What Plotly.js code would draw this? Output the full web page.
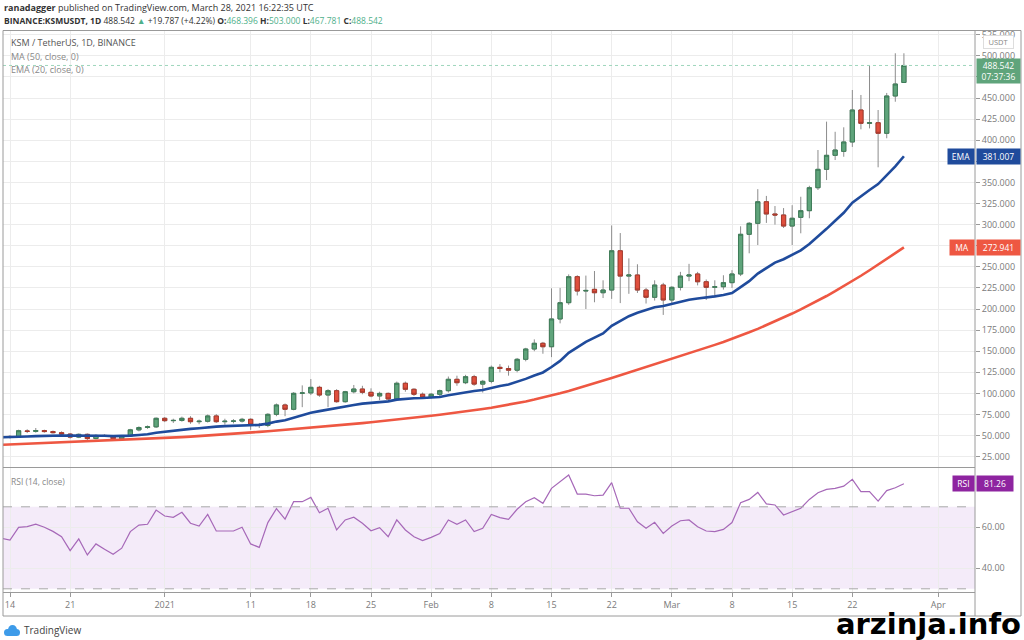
<!DOCTYPE html>
<html><head><meta charset="utf-8">
<script src="https://cdn.plot.ly/plotly-3.0.1.min.js"></script>
<style>html,body{margin:0;padding:0;background:#fff;overflow:hidden}#chart{width:1024px;height:640px}</style>
</head><body><div id="chart"></div>
<script>
const dates = [
'2020-12-13','2020-12-14','2020-12-15','2020-12-16','2020-12-17','2020-12-18','2020-12-19','2020-12-20','2020-12-21','2020-12-22',
'2020-12-23','2020-12-24','2020-12-25','2020-12-26','2020-12-27','2020-12-28','2020-12-29','2020-12-30','2020-12-31',
'2021-01-01','2021-01-02','2021-01-03','2021-01-04','2021-01-05','2021-01-06','2021-01-07','2021-01-08','2021-01-09','2021-01-10',
'2021-01-11','2021-01-12','2021-01-13','2021-01-14','2021-01-15','2021-01-16','2021-01-17','2021-01-18','2021-01-19','2021-01-20',
'2021-01-21','2021-01-22','2021-01-23','2021-01-24','2021-01-25','2021-01-26','2021-01-27','2021-01-28','2021-01-29','2021-01-30','2021-01-31',
'2021-02-01','2021-02-02','2021-02-03','2021-02-04','2021-02-05','2021-02-06','2021-02-07','2021-02-08','2021-02-09','2021-02-10',
'2021-02-11','2021-02-12','2021-02-13','2021-02-14','2021-02-15','2021-02-16','2021-02-17','2021-02-18','2021-02-19','2021-02-20',
'2021-02-21','2021-02-22','2021-02-23','2021-02-24','2021-02-25','2021-02-26','2021-02-27','2021-02-28',
'2021-03-01','2021-03-02','2021-03-03','2021-03-04','2021-03-05','2021-03-06','2021-03-07','2021-03-08','2021-03-09','2021-03-10',
'2021-03-11','2021-03-12','2021-03-13','2021-03-14','2021-03-15','2021-03-16','2021-03-17','2021-03-18','2021-03-19','2021-03-20',
'2021-03-21','2021-03-22','2021-03-23','2021-03-24','2021-03-25','2021-03-26','2021-03-27','2021-03-28'];

const open = [47.5,49,48,55.5,55,56,54.8,53.5,51.8,48.2,51.5,46.5,50.2,49.6,46.2,49.6,56.8,59.6,60.4,
70.5,67.7,68,70.5,66.5,67,73.3,66.5,67,67.2,69.3,62.6,62,75.2,86.3,81.2,100.1,100.6,107.2,98.1,
103.2,90.2,102,105.2,101.3,97,100,93.4,112,104.9,99,
95.4,99,103.2,116.7,112.7,119.8,111,114.3,130.9,129.5,127.5,140.4,152.6,159.4,155.3,188.2,207.5,238.3,221.3,223.3,
219.3,222.5,269,239,240.3,222.5,213.9,228.4,
210.7,225.7,239,241.5,232.3,225.7,226.4,231.2,241.5,288.5,301.5,327.1,312.6,311.4,298.3,308.6,316.5,343.7,365.5,382.1,
386.8,397.9,435.8,420,420.7,408.2,452.4,468.396];
const high = [50,50.5,57,57.5,59,57,56,55,53,52.5,52.5,51.5,51.5,50.5,50.5,58,61,62,71.5,
72,70,72.5,73,69,75,75.5,70,69.5,71,70.5,65,76.5,88,88,101.5,109.5,117,109,105,
105,103,110,109,106,102,101,114,114,106,101,
100.5,104.5,120,121,122,122,116,133,134.7,133,142,154,164,161,224.5,225,241,240,239.6,245,
234,299,290,260,253,225,234,231,
227,244,253.5,244,235,234,240,246,298,303,342,334,322,319.6,323,333,346,388.4,422,410,
415.3,459.5,453.6,489,435.8,456,503,503];
const low = [46.5,46.5,47.5,53,53.5,53.5,52.5,50.5,46.5,47,44,45.5,48.5,45.5,45,49,55,58,59,
66,65,66.5,64,63.5,65.5,65,63,64.5,65.5,56.8,59,60,73,73,80,83.7,98,96,83.7,
89,89,100,99,95.5,92,92,92,102,97,94,
94,97,101,109,111,109,101,112,125,121,125,138,150,147,143,183,205,216,200,208,
213,212,207,218,219,206.5,210,193,
207,222,233,228,210.7,214,223,225,239,266,275.8,302,300,296,275.8,289.7,307.5,341,352.8,376.5,
380.4,392,412.9,414,367.9,402.3,445.6,467.781];
const close = [49,47.8,55.8,55,56,54.8,53.5,51.8,48.2,51.5,46.5,50.2,49.6,46.2,49.6,56.8,59.6,60.4,70.5,
67.7,68,70.5,66.5,67,73.3,66.5,67,67.2,69.3,62.6,62,75.2,86.3,81.2,100.1,100.6,107.2,98.1,103.2,
90.2,102,105.2,101.3,97,100,93.4,112,104.9,99,95.4,
99,103.2,116.7,112.7,119.8,111,114.3,130.9,129.5,127.5,140.4,152.6,159.4,155.3,188.2,207.5,238.3,221.3,222,219.3,
222.5,269,239,240.3,222.5,213.9,228.4,210.7,
225.7,239,240.3,232.3,225.7,226.4,231.2,241.5,288.5,301.5,327.1,312.6,311.4,298.3,307.5,316.5,343.7,365.5,382.1,388.4,
397.9,435.8,420,420.7,408.2,452.4,466.6,488.542];

const ema20 = [48.0,48.1,48.6,49.0,49.4,49.8,50.1,
50.2,50.0,50.1,49.8,49.8,49.8,49.4,49.4,
50.0,50.8,51.6,53.4,
54.7,55.9,57.3,58.0,58.8,60.1,60.6,61.2,61.7,62.5,
62.6,62.7,64.2,66.6,68.1,71.0,73.8,77.1,79.0,81.0,
82.3,84.2,86.3,87.9,88.8,89.9,90.6,92.6,93.7,94.3,94.5,
95.0,95.8,97.8,99.6,101.5,102.8,104.1,106.7,108.8,110.5,
113.4,117.2,121.2,124.8,131.3,138.5,148.0,155.0,161.0,166.0,
171.0,180.0,186.0,191.5,195.5,198.5,202.0,203.5,
206.0,209.0,211.0,212.5,213.5,215.0,216.5,219.0,226.0,233.0,
242.0,249.0,255.0,259.0,264.0,269.5,277.0,285.5,295.0,304.5,
314.0,326.0,334.0,341.0,348.0,358.0,369.0,381.007];

const ma50 = [39.0,39.4,39.8,40.2,40.6,41.0,41.4,
41.8,42.2,42.6,43.0,43.4,43.8,44.2,44.6,
45.0,45.5,46.0,46.5,
47.0,47.6,48.2,48.8,49.4,50.0,50.7,51.4,52.1,52.8,
53.6,54.4,55.2,56.0,56.8,57.6,58.4,59.2,60.0,60.8,
62.0,62.9,63.8,64.8,65.8,66.8,67.9,69.0,70.1,71.2,72.4,
73.6,74.8,76.0,77.3,78.6,80.0,81.5,83.0,84.7,86.5,
88.4,90.5,92.7,95.0,97.5,100.1,102.9,105.8,108.8,111.9,
115.0,118.2,121.4,124.6,127.8,131.0,134.2,137.4,
140.6,143.9,147.2,150.6,154.0,157.5,161.0,164.6,168.4,172.4,
176.5,180.8,185.3,189.9,194.6,199.5,204.6,209.9,215.4,221.1,
227.0,233.1,239.4,245.9,252.6,259.5,266.1,272.941];

const rsi14 = [54.6,53.8,60,60.3,61.5,60,58,55.4,48.6,54.3,46.5,51.9,49.3,46.8,49.8,57.9,61.1,61.5,68.4,
65.5,64.9,67.3,62,60.6,66.3,58.2,58.2,58.2,60,51.9,50.2,62.3,69.1,64,72.5,72.5,74.6,67.1,69.3,
58.7,63.6,64.9,62,58.3,59.8,55.4,63.6,58.7,55.4,53.5,
55.1,57,63.6,61.5,63.6,57.9,59.5,66.3,64.7,63.9,68.8,72.5,74.4,71.7,79,82.2,85.5,76.2,76.2,75.4,
75.7,81.8,69.3,69.3,62.7,59.5,62.4,57,
60.6,63.2,63.6,60.3,58.2,57.9,59,62.3,72,73.6,77,71.4,70.9,66,67.6,69.3,73.6,76.9,78.5,79,
80.1,83.4,77.4,77.4,72.8,77.9,79.3,81.26];

const priceTicks = [25,50,75,100,125,150,175,200,225,250,275,300,325,350,375,400,425,450,475,500,525];
const hiddenTicks = [275,375,475];  // covered by the value badges in the reference
const priceTickText = priceTicks.map(v => hiddenTicks.includes(v) ? '' : v.toFixed(3));
const dateTicks = ['2020-12-14','2020-12-21','2021-01-01','2021-01-11','2021-01-18','2021-01-25','2021-02-01','2021-02-08',
'2021-02-15','2021-02-22','2021-03-01','2021-03-08','2021-03-15','2021-03-22','2021-04-01'];
const dateTickText = ['14','21','2021','11','18','25','Feb','8','15','22','Mar','8','15','22','Apr'];

// page geometry helpers (pixel -> paper)
const W=1024,H=640,L=3,R=49,T=31,B=48, PW=W-L-R, PH=H-T-B;
const px = x => (x-L)/PW;
const py = y => (H-B-y)/PH;

const bodyHigh = open.map((o,i)=>Math.max(o,close[i]));
const bodyLow = open.map((o,i)=>Math.min(o,close[i]));
const n = close.length-1;

const GREEN='#5fa47b', GREEN_L='#3f7d59', RED='#df4f3d', RED_L='#a93a2d';
const EMA_C='#1f4b9c', MA_C='#ee5742', RSI_C='#a668b8';
const FONT='Open Sans, Noto Sans, sans-serif';

const traces = [
 {type:'candlestick', x:dates, open:open, high:high, low:low, close:close, xaxis:'x2', yaxis:'y',
  increasing:{line:{color:'#8c8c8c',width:1}, fillcolor:GREEN},
  decreasing:{line:{color:'#8c8c8c',width:1}, fillcolor:RED},
  whiskerwidth:0, showlegend:false, hoverinfo:'skip'},
 {type:'candlestick', x:dates, open:open, high:bodyHigh, low:bodyLow, close:close, xaxis:'x2', yaxis:'y',
  increasing:{line:{color:GREEN_L,width:1}, fillcolor:GREEN},
  decreasing:{line:{color:RED_L,width:1}, fillcolor:RED},
  whiskerwidth:0, showlegend:false, hoverinfo:'skip'},
 {type:'scatter', mode:'lines', x:dates, y:ma50, xaxis:'x2', yaxis:'y', line:{color:MA_C,width:2.6}, showlegend:false, hoverinfo:'skip'},
 {type:'scatter', mode:'lines', x:dates, y:ema20, xaxis:'x2', yaxis:'y', line:{color:EMA_C,width:2.6}, showlegend:false, hoverinfo:'skip'},
 {type:'scatter', mode:'lines', x:dates, y:rsi14, xaxis:'x', yaxis:'y2', line:{color:RSI_C,width:1.2}, showlegend:false, hoverinfo:'skip'}
];

const xRange = ['2020-12-13 04:28','2021-04-05 06:30'];
const GRID='#ececec', AX='#9a9a9a', TXT='#7a7a7a';

const ann = [];
function A(o){ann.push(Object.assign({xref:'paper',yref:'paper',showarrow:false,font:{family:FONT,size:9,color:TXT}},o));}
const teal='#4fb08a';
A({x:px(2),y:py(7),xanchor:'left',yanchor:'middle',font:{family:FONT,size:9,color:'#333'},
  text:'<b>ranadagger</b> published on TradingView.com, March 28, 2021 16:22:35 UTC'});
A({x:px(2),y:py(20),xanchor:'left',yanchor:'middle',font:{family:FONT,size:8.5,color:'#333'},
  text:'<b>BINANCE:KSMUSDT, 1D</b> 488.542 <span style="color:'+teal+'">▲</span> +19.787 (+4.22%) <b>O:</b><span style="color:'+teal+'">468.396</span> <b>H:</b><span style="color:'+teal+'">503.000</span> <b>L:</b><span style="color:'+teal+'">467.781</span> <b>C:</b><span style="color:'+teal+'">488.542</span>'});
A({x:px(9),y:py(43),xanchor:'left',yanchor:'middle',font:{family:FONT,size:9,color:'#555'},text:'KSM / TetherUS, 1D, BINANCE'});
A({x:px(9),y:py(56),xanchor:'left',yanchor:'middle',font:{family:FONT,size:9,color:'#888'},text:'MA (50, close, 0)'});
A({x:px(9),y:py(69),xanchor:'left',yanchor:'middle',font:{family:FONT,size:9,color:'#888'},text:'EMA (20, close, 0)'});
A({x:px(9),y:py(481),xanchor:'left',yanchor:'middle',font:{family:FONT,size:8.5,color:'#888'},text:'RSI (14, close)'});
// right-side value badges
A({x:px(983),y:py(42),xanchor:'left',yanchor:'middle',font:{family:FONT,size:7.5,color:'#888'},text:'USDT',bgcolor:'#fff',bordercolor:'#ddd',borderwidth:1,borderpad:1,width:27});
A({xref:'paper',yref:'y',x:px(976),y:close[n],yshift:7,xanchor:'left',yanchor:'top',font:{family:FONT,size:8.5,color:'#fff'},
  text:close[n].toFixed(3)+'<br>07:37:36',bgcolor:GREEN,borderpad:1,width:41,align:'center'});
A({xref:'paper',yref:'y',x:px(976),y:ema20[n],xanchor:'left',yanchor:'middle',font:{family:FONT,size:8.5,color:'#fff'},text:ema20[n].toFixed(3),bgcolor:EMA_C,borderpad:2,width:39});
A({xref:'paper',yref:'y',x:px(975),y:ema20[n],xanchor:'right',yanchor:'middle',font:{family:FONT,size:8.5,color:'#fff'},text:'EMA',bgcolor:EMA_C,borderpad:2,width:22});
A({xref:'paper',yref:'y',x:px(976),y:ma50[n],xanchor:'left',yanchor:'middle',font:{family:FONT,size:8.5,color:'#fff'},text:ma50[n].toFixed(3),bgcolor:MA_C,borderpad:2,width:39});
A({xref:'paper',yref:'y',x:px(975),y:ma50[n],xanchor:'right',yanchor:'middle',font:{family:FONT,size:8.5,color:'#fff'},text:'MA',bgcolor:MA_C,borderpad:2,width:20});
A({xref:'paper',yref:'y2',x:px(976),y:rsi14[n],xanchor:'left',yanchor:'middle',font:{family:FONT,size:8.5,color:'#fff'},text:rsi14[n].toFixed(2),bgcolor:'#8e24a0',borderpad:2,width:32});
A({xref:'paper',yref:'y2',x:px(975),y:rsi14[n],xanchor:'right',yanchor:'middle',font:{family:FONT,size:8.5,color:'#fff'},text:'RSI',bgcolor:'#8e24a0',borderpad:2,width:17});
// footer
A({x:px(22),y:py(630),xanchor:'left',yanchor:'middle',font:{family:FONT,size:10,color:'#444'},text:'TradingView'});
A({x:px(1022),y:py(624),xanchor:'right',yanchor:'middle',borderpad:0,font:{family:'DejaVu Sans',size:29,color:'#000'},text:'<b>arzinja.info</b>'});

const shapes = [
 {type:'rect',xref:'paper',yref:'y2',x0:0,x1:1,y0:30,y1:70,fillcolor:'rgba(170,100,210,0.13)',line:{width:0},layer:'below'},
 {type:'line',xref:'paper',yref:'y2',x0:0,x1:1,y0:70,y1:70,line:{color:'#a8a8a8',width:1,dash:'dash'}},
 {type:'line',xref:'paper',yref:'y2',x0:0,x1:1,y0:30,y1:30,line:{color:'#a8a8a8',width:1,dash:'dash'}},
 {type:'line',xref:'paper',yref:'y',x0:0,x1:1,y0:close[n],y1:close[n],line:{color:'#9fd6bd',width:1,dash:'dot'}},
 {type:'line',xref:'paper',yref:'paper',x0:px(3),x1:px(975),y0:py(467.5),y1:py(467.5),line:{color:AX,width:1}},
 {type:'rect',xref:'paper',yref:'paper',x0:px(3),x1:px(1021),y0:py(616),y1:py(30.5),line:{color:AX,width:1}},
 {type:'line',xref:'paper',yref:'paper',x0:px(975),x1:px(975),y0:py(616),y1:py(30.5),line:{color:AX,width:1}},
 {type:'circle',xref:'paper',yref:'paper',x0:px(4),x1:px(11),y0:py(636),y1:py(629),fillcolor:'#3d9be9',line:{width:0}},
 {type:'circle',xref:'paper',yref:'paper',x0:px(8),x1:px(17),y0:py(635),y1:py(625),fillcolor:'#3d9be9',line:{width:0}},
 {type:'circle',xref:'paper',yref:'paper',x0:px(13),x1:px(20),y0:py(636),y1:py(629),fillcolor:'#3d9be9',line:{width:0}},
 {type:'rect',xref:'paper',yref:'paper',x0:px(7),x1:px(17),y0:py(636),y1:py(632),fillcolor:'#3d9be9',line:{width:0}}
];

const layout = {
 width:W,height:H,margin:{l:L,r:R,t:T,b:B,pad:0},
 paper_bgcolor:'#fff',plot_bgcolor:'#fff',showlegend:false,
 font:{family:FONT,size:9,color:TXT},
 boxgap:0.3,
 xaxis:{anchor:'y2',domain:[0,1],type:'date',range:xRange,tickvals:dateTicks,ticktext:dateTickText,
   ticks:'outside',ticklen:4,tickcolor:AX,tickfont:{family:FONT,size:9,color:TXT},
   showgrid:true,gridcolor:GRID,showline:true,linecolor:AX,zeroline:false,rangeslider:{visible:false},fixedrange:true},
 xaxis2:{anchor:'y',domain:[0,1],type:'date',matches:'x',range:xRange,tickvals:dateTicks,showticklabels:false,ticks:'',
   showgrid:true,gridcolor:GRID,showline:false,zeroline:false,rangeslider:{visible:false}},
 yaxis:{anchor:'x2',domain:[py(467),1],side:'right',range:[12.8,529.4],tickvals:priceTicks,ticktext:priceTickText,
   ticks:'outside',ticklen:4,tickcolor:AX,tickfont:{family:FONT,size:9,color:TXT},showgrid:true,gridcolor:GRID,zeroline:false,showline:false},
 yaxis2:{anchor:'x',domain:[0,py(468)],side:'right',range:[28.44,88.93],tickvals:[40,60],ticktext:['40.00','60.00'],
   ticks:'outside',ticklen:4,tickcolor:AX,tickfont:{family:FONT,size:9,color:TXT},showgrid:true,gridcolor:GRID,zeroline:false,showline:false},
 annotations:ann, shapes:shapes
};
Plotly.newPlot('chart',traces,layout,{displayModeBar:false,staticPlot:true});
</script></body></html>
